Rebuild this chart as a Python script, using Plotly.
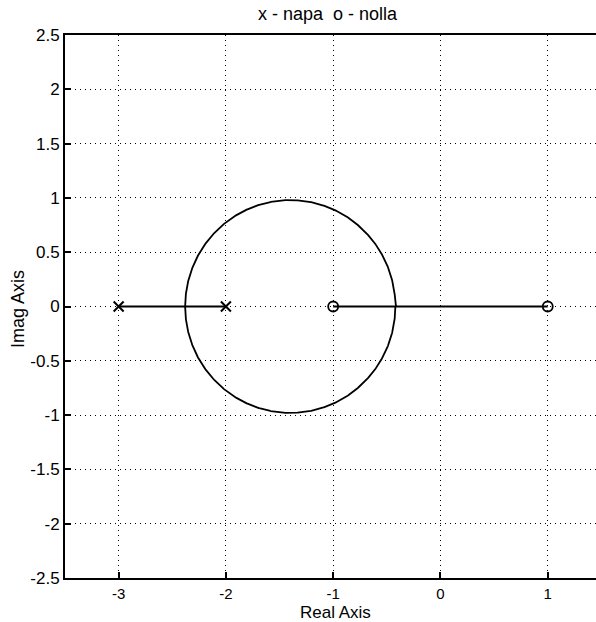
import numpy as np
import plotly.graph_objects as go

# Open-loop poles and zeros (from the figure)
poles = [-3.0, -2.0]
zeros = [-1.0, 1.0]
title_text = "x - napa  o - nolla"
x_label = "Real Axis"
y_label = "Imag Axis"
x_ticks = [-3, -2, -1, 0, 1]
y_ticks = [-2.5, -2, -1.5, -1, -0.5, 0, 0.5, 1, 1.5, 2, 2.5]
y_tick_labels = ["-2.5", "-2", "-1.5", "-1", "-0.5", "0", "0.5", "1", "1.5", "2", "2.5"]

# Root locus: roots of den(s) + K num(s)
num = np.poly(zeros)
den = np.poly(poles)
bp = np.roots(np.polysub(np.polymul(np.polyder(den), num), np.polymul(den, np.polyder(num))))
k_break = [-np.polyval(den, s).real / np.polyval(num, s).real for s in bp]
gains = [0.0] + list(np.logspace(-5, 5, 4000))
for kb in k_break:
    gains += list(kb + np.linspace(-0.02 * kb, 0.02 * kb, 400)) + [kb]
gains = np.unique(np.array(gains))
branches = [[], []]
for k in gains:
    r = np.roots(np.polyadd(den, k * num))
    r = sorted(r, key=lambda z: (-round(z.imag, 9), -z.real))
    for i in range(2):
        branches[i].append(r[i])

fig = go.Figure()
for b in branches:
    b = np.array(b)
    fig.add_trace(go.Scatter(x=b.real, y=b.imag, mode="lines",
                             line=dict(color="black", width=1.8),
                             showlegend=False, hoverinfo="skip"))
fig.add_trace(go.Scatter(x=poles, y=[0] * len(poles), mode="markers",
                         marker=dict(symbol="x-thin", size=10, color="black",
                                     line=dict(color="black", width=2)),
                         showlegend=False))
fig.add_trace(go.Scatter(x=zeros, y=[0] * len(zeros), mode="markers",
                         marker=dict(symbol="circle-open", size=10, color="black",
                                     line=dict(color="black", width=1.8)),
                         showlegend=False))

fam = "Liberation Sans, Arial, sans-serif"
L, T, B = 65, 35, 44
PW, PH = 596 - L, 622 - T - B
lab_font = dict(family=fam, size=18, color="black")
fig.update_layout(
    width=596, height=622,
    margin=dict(l=L, r=0, t=T, b=B, autoexpand=False),
    paper_bgcolor="white", plot_bgcolor="white",
    font=dict(family=fam, size=16, color="black"),
    xaxis=dict(range=[-3.5, 1.45], tickvals=x_ticks, ticktext=[str(t) for t in x_ticks],
               tickfont=dict(family=fam, size=15, color="black"),
               showgrid=True, gridcolor="black", griddash="1px,4px", gridwidth=1,
               zeroline=False, showline=True, linecolor="black", linewidth=2,
               mirror=True, ticks="inside", ticklen=6, tickcolor="black", tickwidth=1.5,
               automargin=False, ticklabelstandoff=1),
    yaxis=dict(range=[-2.5, 2.5], tickvals=y_ticks, ticktext=y_tick_labels,
               tickfont=dict(family=fam, size=17, color="black"),
               showgrid=True, gridcolor="black", griddash="1px,4px", gridwidth=1,
               zeroline=False, showline=True, linecolor="black", linewidth=2,
               mirror=False, ticks="inside", ticklen=6, tickcolor="black", tickwidth=1.5,
               automargin=False, ticklabelstandoff=0),
    annotations=[
        dict(text=title_text, xref="paper", x=(328 - L) / PW, xanchor="center",
             yref="paper", y=1 + (T - 14) / PH, yanchor="middle",
             showarrow=False, font=lab_font),
        dict(text=x_label, xref="paper", x=(335 - L) / PW, xanchor="center",
             yref="paper", y=-(612 - (622 - B)) / PH, yanchor="middle",
             showarrow=False, font=dict(family=fam, size=17, color="black")),
        dict(text=y_label, xref="paper", x=-(L - 18) / PW, xanchor="center",
             yref="paper", y=1 - (309 - T) / PH, yanchor="middle", textangle=-90,
             showarrow=False, font=lab_font),
    ],
)
fig.write_html("out.html", config={"displayModeBar": False},
               post_script="document.body.style.margin='0';document.body.style.overflow='hidden';")
